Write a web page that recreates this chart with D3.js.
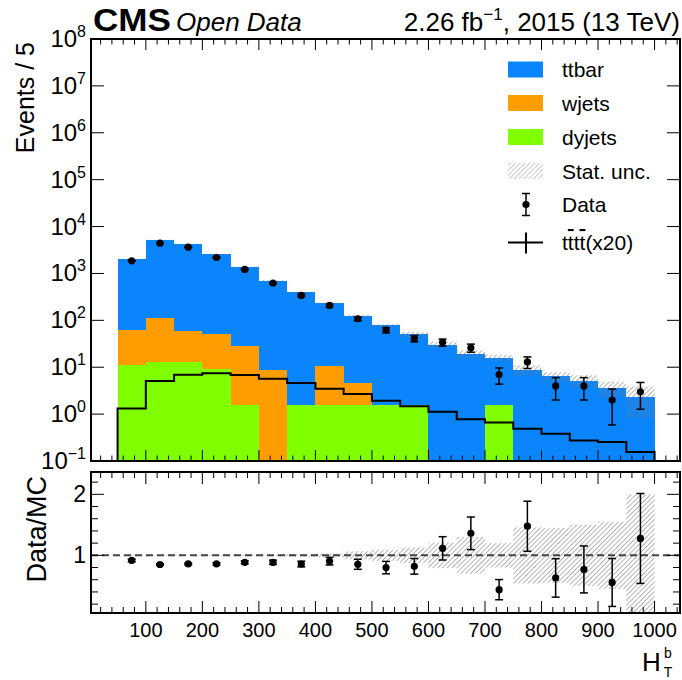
<!DOCTYPE html>
<html>
<head>
<meta charset="utf-8">
<script src="https://cdn.jsdelivr.net/npm/d3@7"></script>
<style>
  body { margin: 0; background: #fff; }
  svg { font-family: "Liberation Sans", Arial, sans-serif; }
</style>
</head>
<body>
<div id="chart"></div>
<script>
// H_T^b bins (GeV), 50 wide
const binLow  = [50, 100, 150, 200, 250, 300, 350, 400, 450, 500, 550, 600, 650, 700, 750, 800, 850, 900, 950];
const binHigh = [100, 150, 200, 250, 300, 350, 400, 450, 500, 550, 600, 650, 700, 750, 800, 850, 900, 950, 1000];

// stacked MC (events / bin)
const ttbar  = [1967, 5101, 4173, 2494, 1346, 697, 395, 219, 122, 76, 48.4, 30.5, 19.1, 14.4, 8.8, 6.35, 5.2, 3.6, 2.35];
const wjets  = [51.7, 98, 47, 42.2, 27.4, 8.8, 0, 9.3, 3.0, 0, 0, 0, 0, 0, 0, 0, 0, 0, 0];
const dyjets = [10.9, 12.7, 12.7, 9.25, 1.58, 0, 1.58, 1.58, 1.58, 1.6, 1.6, 0, 0, 1.6, 0, 0, 0, 0, 0];

// observed data counts
const dataCounts = [1860, 4430, 3640, 2190, 1217, 625, 340, 208, 108, 62, 41, 34, 26, 7, 13, 4, 4, 2, 3];

// four-top signal scaled x20
const signalX20 = [1.32, 5.1, 6.9, 7.4, 6.8, 5.7, 4.6, 3.46, 2.67, 1.92, 1.48, 1.12, 0.78, 0.665, 0.486, 0.38, 0.275, 0.253, 0.155];

// relative MC stat. uncertainty as drawn in the upper panel and in the ratio band
const mcStatUnc = [0.01, 0.01, 0.01, 0.01, 0.015, 0.02, 0.025, 0.03, 0.04, 0.06, 0.12, 0.16, 0.2, 0.15, 0.25, 0.23, 0.3, 0.35, 0.65];
const ratioUnc  = [0.005, 0.005, 0.005, 0.008, 0.01, 0.015, 0.02, 0.03, 0.066, 0.09, 0.128, 0.21, 0.3, 0.2, 0.46, 0.45, 0.5, 0.55, 1.0];

const xTickLabels = [100, 200, 300, 400, 500, 600, 700, 800, 900, 1000];
const yTopTicks = [0.1, 1, 10, 100, 1e3, 1e4, 1e5, 1e6, 1e7, 1e8];
const yTopExp = [-1, 0, 1, 2, 3, 4, 5, 6, 7, 8];
const yRatioTicks = [1, 2];

const legendNames = ["ttbar", "wjets", "dyjets", "Stat. unc.", "Data"];
const colors = { ttbar: "#0a85fb", wjets: "#ff9c00", dyjets: "#80ff00" };

const W = 682, H = 680;
const left = 91, right = 680;
const topY0 = 39, topY1 = 461;
const ratY0 = 472, ratY1 = 613;

const svg = d3.select("#chart").append("svg")
  .attr("width", W).attr("height", H);

const defs = svg.append("defs");
const pat = defs.append("pattern")
  .attr("id", "hatch").attr("patternUnits", "userSpaceOnUse")
  .attr("width", 3.4).attr("height", 3.4)
  .attr("patternTransform", "rotate(45)");
pat.append("line").attr("x1", 0).attr("y1", 0).attr("x2", 0).attr("y2", 3.4)
  .attr("stroke", "#7a7a7a").attr("stroke-width", 1.1);

defs.append("clipPath").attr("id", "clipTop").append("rect")
  .attr("x", left).attr("y", topY0).attr("width", right - left).attr("height", topY1 - topY0);
defs.append("clipPath").attr("id", "clipRat").append("rect")
  .attr("x", left).attr("y", ratY0).attr("width", right - left).attr("height", ratY1 - ratY0);

const x = d3.scaleLinear().domain([3, 1045]).range([left, right]);
const yTop = d3.scaleLog().domain([0.1, 1e8]).range([topY1, topY0]);
const yRat = d3.scaleLinear().domain([0.055, 2.366]).range([ratY1, ratY0]);

const rows = binLow.map((lo, i) => ({
  lo, hi: binHigh[i], ttbar: ttbar[i], wjets: wjets[i], dyjets: dyjets[i],
  data: dataCounts[i], sig: signalX20[i], unc: mcStatUnc[i], runc: ratioUnc[i]
}));
rows.forEach(r => { r.total = r.ttbar + r.wjets + r.dyjets; });

// ---------- upper panel ----------
const gTop = svg.append("g").attr("clip-path", "url(#clipTop)");
const stack = d3.stack().keys(["dyjets", "wjets", "ttbar"])(rows);
const yMin = 0.1;
stack.forEach(layer => {
  gTop.append("g").selectAll("rect")
    .data(layer.filter(d => d[1] - d[0] > 0))
    .join("rect")
    .attr("x", d => x(d.data.lo))
    .attr("width", d => x(d.data.hi) - x(d.data.lo))
    .attr("y", d => yTop(d[1]))
    .attr("height", d => yTop(Math.max(d[0], yMin)) - yTop(d[1]))
    .attr("fill", colors[layer.key])
    .attr("shape-rendering", "crispEdges");
});

// stat band
gTop.append("g").selectAll("rect")
  .data(rows)
  .join("rect")
  .attr("x", d => x(d.lo))
  .attr("width", d => x(d.hi) - x(d.lo))
  .attr("y", d => yTop(d.total * (1 + d.unc)))
  .attr("height", d => yTop(Math.max(d.total * (1 - d.unc), yMin)) - yTop(d.total * (1 + d.unc)))
  .attr("fill", "url(#hatch)");

// signal step
const sigPts = [[binLow[0], yMin]];
rows.forEach(r => { sigPts.push([r.lo, r.sig]); sigPts.push([r.hi, r.sig]); });
sigPts.push([binHigh[binHigh.length - 1], yMin]);
gTop.append("path")
  .attr("d", d3.line().x(d => x(d[0])).y(d => yTop(d[1]))(sigPts))
  .attr("fill", "none").attr("stroke", "#000").attr("stroke-width", 2);

// data
const gData = gTop.append("g");
rows.forEach(r => {
  const cx = x((r.lo + r.hi) / 2);
  const e = Math.sqrt(r.data);
  const yHi = yTop(r.data + e), yLo = yTop(Math.max(r.data - e, yMin));
  gData.append("line").attr("x1", cx).attr("x2", cx).attr("y1", yHi).attr("y2", yLo)
    .attr("stroke", "#000").attr("stroke-width", 1.5);
  [yHi, yLo].forEach(yy => gData.append("line")
    .attr("x1", cx - 4).attr("x2", cx + 4).attr("y1", yy).attr("y2", yy)
    .attr("stroke", "#000").attr("stroke-width", 1.5));
  gData.append("circle").attr("cx", cx).attr("cy", yTop(r.data)).attr("r", 3.6).attr("fill", "#000");
});

// ---------- ratio panel ----------
const gRat = svg.append("g").attr("clip-path", "url(#clipRat)");
gRat.append("g").selectAll("rect")
  .data(rows)
  .join("rect")
  .attr("x", d => x(d.lo))
  .attr("width", d => x(d.hi) - x(d.lo))
  .attr("y", d => yRat(1 + d.runc))
  .attr("height", d => yRat(1 - d.runc) - yRat(1 + d.runc))
  .attr("fill", "url(#hatch)");

gRat.append("line")
  .attr("x1", left).attr("x2", right).attr("y1", yRat(1)).attr("y2", yRat(1))
  .attr("stroke", "#444").attr("stroke-width", 2).attr("stroke-dasharray", "7,4");

rows.forEach(r => {
  const cx = x((r.lo + r.hi) / 2);
  const rv = r.data / r.total;
  const re = Math.sqrt(r.data) / r.total;
  const yHi = yRat(rv + re), yLo = yRat(rv - re);
  gRat.append("line").attr("x1", cx).attr("x2", cx).attr("y1", yHi).attr("y2", yLo)
    .attr("stroke", "#000").attr("stroke-width", 1.5);
  [yHi, yLo].forEach(yy => gRat.append("line")
    .attr("x1", cx - 4).attr("x2", cx + 4).attr("y1", yy).attr("y2", yy)
    .attr("stroke", "#000").attr("stroke-width", 1.5));
  gRat.append("circle").attr("cx", cx).attr("cy", yRat(rv)).attr("r", 3.6).attr("fill", "#000");
});

// ---------- frames & ticks ----------
function xTicksOn(y, dir, majLen, minLen) {
  const g = svg.append("g").attr("stroke", "#000").attr("stroke-width", 1);
  const minors = d3.range(20, 1045, 20);
  g.selectAll("line").data(minors).join("line")
    .attr("x1", d => x(d)).attr("x2", d => x(d))
    .attr("y1", y).attr("y2", d => y + dir * (d % 100 === 0 ? majLen : minLen));
}
xTicksOn(topY1, -1, 11, 5.5);
xTicksOn(topY0, 1, 11, 5.5);
xTicksOn(ratY1, -1, 12, 6);
xTicksOn(ratY0, 1, 12, 6);

const gy = svg.append("g").attr("stroke", "#000").attr("stroke-width", 1);
yTopTicks.forEach(v => {
  gy.append("line").attr("x1", left).attr("x2", left + 13).attr("y1", yTop(v)).attr("y2", yTop(v));
  gy.append("line").attr("x1", right).attr("x2", right - 13).attr("y1", yTop(v)).attr("y2", yTop(v));
});
d3.range(0.2, 2.35, 0.2).forEach(v => {
  const major = Math.abs(v - Math.round(v)) < 1e-6;
  const len = major ? 13 : 7;
  gy.append("line").attr("x1", left).attr("x2", left + len).attr("y1", yRat(v)).attr("y2", yRat(v));
  gy.append("line").attr("x1", right).attr("x2", right - len).attr("y1", yRat(v)).attr("y2", yRat(v));
});

[[topY0, topY1], [ratY0, ratY1]].forEach(([a, b]) => {
  svg.append("rect").attr("x", left).attr("y", a).attr("width", right - left).attr("height", b - a)
    .attr("fill", "none").attr("stroke", "#000").attr("stroke-width", 2);
});

// tick labels
const yLab = svg.append("g").attr("font-size", 24).attr("fill", "#000");
yTopTicks.forEach((v, i) => {
  const t = yLab.append("text").attr("x", 86).attr("y", yTop(v) + 8).attr("text-anchor", "end");
  t.append("tspan").text("10");
  t.append("tspan").attr("font-size", 16).attr("dy", -10).text(yTopExp[i] < 0 ? "\u22121" : yTopExp[i]);
});
yRatioTicks.forEach(v => {
  svg.append("text").attr("x", 86).attr("y", yRat(v) + 8).attr("text-anchor", "end")
    .attr("font-size", 23).text(v);
});
xTickLabels.forEach(v => {
  svg.append("text").attr("x", x(v)).attr("y", 637).attr("text-anchor", "middle")
    .attr("font-size", 20).text(v);
});

// axis titles
svg.append("text").attr("transform", `translate(34,42) rotate(-90)`)
  .attr("text-anchor", "end").attr("font-size", 25).text("Events / 5");
svg.append("text").attr("transform", `translate(46,476) rotate(-90)`)
  .attr("text-anchor", "end").attr("font-size", 27).text("Data/MC");
const hT = svg.append("g");
hT.append("text").attr("x", 642).attr("y", 671).attr("font-size", 26).text("H");
hT.append("text").attr("x", 668).attr("y", 658).attr("font-size", 14).attr("text-anchor", "middle").text("b");
hT.append("text").attr("x", 668).attr("y", 677).attr("font-size", 14).attr("text-anchor", "middle").text("T");

// header
svg.append("text").attr("x", 93).attr("y", 31).attr("font-size", 31).attr("font-weight", "bold")
  .attr("textLength", 78).attr("lengthAdjust", "spacingAndGlyphs").text("CMS");
svg.append("text").attr("x", 176).attr("y", 31).attr("font-size", 26).attr("font-style", "italic")
  .text("Open Data");
const lumi = svg.append("text").attr("x", 680).attr("y", 31).attr("font-size", 26).attr("text-anchor", "end");
lumi.append("tspan").text("2.26 fb");
lumi.append("tspan").attr("font-size", 17).attr("dy", -11).text("\u22121");
lumi.append("tspan").attr("dy", 11).text(", 2015 (13 TeV)");

// ---------- legend ----------
const leg = svg.append("g").attr("font-size", 21);
const rowY = [69.5, 103, 137, 171, 204.5, 242.5];
["ttbar", "wjets", "dyjets"].forEach((k, i) => {
  leg.append("rect").attr("x", 508).attr("y", rowY[i] - 8).attr("width", 35).attr("height", 16)
    .attr("fill", colors[k]);
});
leg.append("rect").attr("x", 508).attr("y", rowY[3] - 8).attr("width", 35).attr("height", 16)
  .attr("fill", "url(#hatch)").attr("opacity", 0.7);
leg.append("line").attr("x1", 526).attr("x2", 526).attr("y1", rowY[4] - 11).attr("y2", rowY[4] + 11)
  .attr("stroke", "#000").attr("stroke-width", 1.5);
[rowY[4] - 11, rowY[4] + 11].forEach(yy => leg.append("line")
  .attr("x1", 522).attr("x2", 530).attr("y1", yy).attr("y2", yy).attr("stroke", "#000").attr("stroke-width", 1.5));
leg.append("circle").attr("cx", 526).attr("cy", rowY[4]).attr("r", 3.6).attr("fill", "#000");
leg.append("line").attr("x1", 508).attr("x2", 543).attr("y1", rowY[5]).attr("y2", rowY[5])
  .attr("stroke", "#000").attr("stroke-width", 2);
leg.append("line").attr("x1", 526).attr("x2", 526).attr("y1", rowY[5] - 10).attr("y2", rowY[5] + 11)
  .attr("stroke", "#000").attr("stroke-width", 2);
legendNames.forEach((n, i) => {
  leg.append("text").attr("x", 562).attr("y", rowY[i] + 7.5).text(n);
});
const sigLabel = leg.append("text").attr("x", 562).attr("y", rowY[5] + 7.5);
sigLabel.append("tspan").text("t");
sigLabel.append("tspan").attr("text-decoration", "overline").text("t");
sigLabel.append("tspan").text("t");
sigLabel.append("tspan").attr("text-decoration", "overline").text("t");
sigLabel.append("tspan").text("(x20)");
</script>
</body>
</html>
